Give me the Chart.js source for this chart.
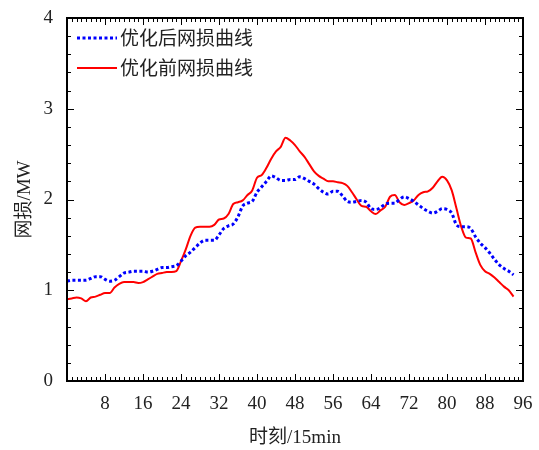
<!DOCTYPE html>
<html>
<head>
<meta charset="utf-8">
<script src="https://cdn.jsdelivr.net/npm/chart.js@4"></script>
<style>
html,body{margin:0;padding:0;background:#fff;}
#wrap{width:539px;height:450px;}
</style>
</head>
<body>
<div id="wrap"><canvas id="c" width="539" height="450"></canvas></div>
<script>
// ---- data ----
const TIME = [0,1,2,3,4,5,6,7,8,9,10,11,12,13,14,15,16,17,18,19,20,21,22,23,24,25,26,27,28,29,30,31,32,33,34,35,36,37,38,39,40,41,42,43,44,45,46,47,48,49,50,51,52,53,54,55,56,57,58,59,60,61,62,63,64,65,66,67,68,69,70,71,72,73,74,75,76,77,78,79,80,81,82,83,84,85,86,87,88,89,90,91,92,93,94];
const LOSS_AFTER = [1.10,1.11,1.11,1.11,1.11,1.13,1.15,1.15,1.12,1.10,1.11,1.15,1.19,1.20,1.21,1.21,1.21,1.20,1.21,1.23,1.25,1.25,1.26,1.27,1.32,1.38,1.42,1.47,1.52,1.55,1.55,1.55,1.61,1.68,1.71,1.73,1.81,1.93,1.96,1.98,2.08,2.14,2.20,2.26,2.24,2.21,2.21,2.22,2.22,2.25,2.23,2.20,2.17,2.12,2.08,2.06,2.09,2.09,2.04,1.98,1.97,1.98,1.99,1.97,1.90,1.89,1.91,1.95,1.96,1.96,2.00,2.03,2.01,1.98,1.94,1.90,1.87,1.85,1.87,1.90,1.89,1.85,1.72,1.70,1.70,1.68,1.59,1.52,1.47,1.41,1.34,1.28,1.24,1.21,1.17];
const LOSS_BEFORE = [0.90,0.91,0.92,0.91,0.88,0.92,0.93,0.95,0.97,0.97,1.03,1.07,1.09,1.09,1.09,1.08,1.09,1.12,1.15,1.18,1.19,1.20,1.20,1.21,1.32,1.45,1.60,1.69,1.70,1.70,1.70,1.72,1.78,1.79,1.84,1.95,1.97,1.99,2.05,2.10,2.24,2.27,2.35,2.45,2.53,2.58,2.68,2.65,2.60,2.53,2.47,2.39,2.31,2.26,2.23,2.20,2.20,2.19,2.18,2.15,2.08,2.00,1.93,1.92,1.87,1.84,1.88,1.92,2.03,2.05,1.97,1.94,1.96,1.99,2.05,2.08,2.09,2.13,2.20,2.25,2.21,2.10,1.90,1.70,1.58,1.57,1.42,1.28,1.21,1.18,1.14,1.09,1.04,1.00,0.93];
const SERIES_NAMES = ['优化后网损曲线', '优化前网损曲线'];
const X_TITLE = '时刻/15min';
const Y_TITLE = '网损/MW';
const X_MIN = 0, X_MAX = 96, X_STEP = 8, X_MINOR = 1;
const Y_MIN = 0, Y_MAX = 4, Y_STEP = 1, Y_MINOR = 0.2;

const SERIF = '"Liberation Serif", "Times New Roman", "Noto Sans CJK SC", serif';
const CJK = '"Noto Sans CJK SC", sans-serif';

const toXY = arr => arr.map((v, i) => ({x: TIME[i], y: v}));

// frame + inward ticks, drawn through the scales
const frameTicks = {
  id: 'frameTicks',
  afterDatasetsDraw(chart) {
    const {ctx, chartArea: {left, right, top, bottom}, scales: {x, y}} = chart;
    ctx.save();
    ctx.strokeStyle = '#000';
    ctx.lineWidth = 1;
    ctx.beginPath();
    const nx = Math.round((X_MAX - X_MIN) / X_MINOR);
    for (let i = 0; i <= nx; i++) {
      const v = X_MIN + i * X_MINOR;
      const px = Math.round(x.getPixelForValue(v)) + 0.5;
      const len = (Math.round(v) % X_STEP === 0) ? 7 : 4;
      ctx.moveTo(px, bottom); ctx.lineTo(px, bottom - len);
      ctx.moveTo(px, top); ctx.lineTo(px, top + len);
    }
    const ny = Math.round((Y_MAX - Y_MIN) / Y_MINOR);
    for (let i = 0; i <= ny; i++) {
      const v = Y_MIN + i * Y_MINOR;
      const py = Math.round(y.getPixelForValue(v)) + 0.5;
      const major = Math.abs(v - Math.round(v / Y_STEP) * Y_STEP) < 1e-6;
      const len = major ? 7 : 4;
      ctx.moveTo(left, py); ctx.lineTo(left + len, py);
      ctx.moveTo(right, py); ctx.lineTo(right - len, py);
    }
    ctx.stroke();
    ctx.lineWidth = 2;
    ctx.strokeRect(left, top, right - left, bottom - top);
    ctx.restore();
  }
};

// legend inside the plot (top-left)
const innerLegend = {
  id: 'innerLegend',
  afterDraw(chart) {
    const {ctx, chartArea: {left, top}} = chart;
    ctx.save();
    chart.data.datasets.forEach((ds, i) => {
      const yy = top + 20 + i * 30;
      const x0 = left + 10, x1 = left + 50;
      ctx.beginPath();
      ctx.strokeStyle = ds.borderColor;
      ctx.lineWidth = ds.borderWidth;
      ctx.setLineDash(ds.borderDash || []);
      ctx.moveTo(x0, yy); ctx.lineTo(x1, yy);
      ctx.stroke();
      ctx.setLineDash([]);
      ctx.fillStyle = '#222';
      ctx.font = '19px ' + CJK;
      ctx.textBaseline = 'middle';
      ctx.textAlign = 'left';
      ctx.fillText(ds.label, x1 + 3, yy);
    });
    ctx.restore();
  }
};

new Chart(document.getElementById('c'), {
  type: 'line',
  data: {
    datasets: [
      {
        label: SERIES_NAMES[0],
        data: toXY(LOSS_AFTER),
        borderColor: '#0000ff',
        borderWidth: 3,
        borderDash: [3, 2.5],
        pointRadius: 0,
        cubicInterpolationMode: 'monotone',
        fill: false
      },
      {
        label: SERIES_NAMES[1],
        data: toXY(LOSS_BEFORE),
        borderColor: '#ff0000',
        borderWidth: 2,
        pointRadius: 0,
        cubicInterpolationMode: 'monotone',
        fill: false
      }
    ]
  },
  options: {
    responsive: false,
    animation: false,
    devicePixelRatio: 1,
    layout: {padding: {left: 0, right: 16, top: 18, bottom: 0}},
    plugins: {legend: {display: false}, tooltip: {enabled: false}},
    scales: {
      x: {
        type: 'linear',
        min: X_MIN, max: X_MAX,
        grid: {display: false, drawTicks: false},
        border: {display: false},
        ticks: {
          stepSize: X_STEP,
          autoSkip: false,
          maxRotation: 0,
          padding: 12,
          color: '#222',
          font: {family: SERIF, size: 19},
          callback: v => (v === 0 ? '' : v)
        },
        title: {display: true, text: X_TITLE, color: '#222', font: {family: SERIF, size: 19}, padding: {top: 0, bottom: 1}},
        afterFit: s => { s.height = 69; s.paddingLeft = 0; s.paddingRight = 0; }
      },
      y: {
        type: 'linear',
        min: Y_MIN, max: Y_MAX,
        grid: {display: false, drawTicks: false},
        border: {display: false},
        ticks: {
          stepSize: Y_STEP,
          padding: 14,
          color: '#222',
          font: {family: SERIF, size: 19}
        },
        title: {display: true, text: Y_TITLE, color: '#222', font: {family: SERIF, size: 19}, padding: {top: 14, bottom: 0}},
        afterFit: s => { s.width = 67; s.paddingTop = 0; s.paddingBottom = 0; }
      }
    }
  },
  plugins: [frameTicks, innerLegend]
});
</script>
</body>
</html>
